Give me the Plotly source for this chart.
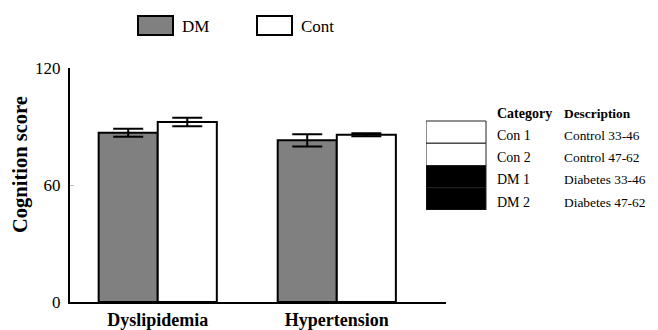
import plotly.graph_objects as go

# ---- data ----
categories = ["Dyslipidemia", "Hypertension"]
series_names = ["DM", "Cont"]
dm_values = [86.8, 82.9]
dm_errors = [2.1, 3.1]
cont_values = [92.3, 85.8]
cont_errors = [2.2, 0.8]
series_colors = ["#808080", "#ffffff"]

table_categories = ["Con 1", "Con 2", "DM 1", "DM 2"]
table_descriptions = ["Control 33-46", "Control 47-62", "Diabetes 33-46", "Diabetes 47-62"]
table_swatches = ["#ffffff", "#ffffff", "#000000", "#000000"]
table_headers = ["Category", "Description"]
y_ticks = [0, 60, 120]

# ---- layout helpers (page has an 8px body margin) ----
OFF = 8
W, H = 658 - OFF, 330 - OFF
FONT = "Liberation Serif"

def px(x):
    return (x - OFF) / W

def py(y):
    return 1 - (y - OFF) / H

rows = list(range(len(table_categories)))
TEXT_SHIFT = 0.15  # visual baseline nudge in row units
SWATCH_W = 60      # px, table units = px
CAT_X = 69
DESC_X = 136
CAT_FONT = dict(family=FONT, size=14, color="black")
DESC_FONT = dict(family=FONT, size=13.4, color="black")

fig = go.Figure()
for name, vals, errs, col in zip(series_names, [dm_values, cont_values],
                                 [dm_errors, cont_errors], series_colors):
    fig.add_trace(go.Bar(
        x=categories, y=vals, name=name,
        marker=dict(color=col, line=dict(color="black", width=2)),
        error_y=dict(type="data", array=errs, color="black", thickness=2, width=15),
        showlegend=False, xaxis="x", yaxis="y",
    ))

# ---- key table on secondary axes ----
fig.add_trace(go.Bar(
    y=rows, x=[SWATCH_W] * len(rows), orientation="h", width=1,
    marker=dict(color=table_swatches, line=dict(color="#222222", width=1)),
    xaxis="x2", yaxis="y2", showlegend=False, hoverinfo="skip",
))
for r, cat, desc in zip(rows, table_categories, table_descriptions):
    for xx, txt, fnt in ((CAT_X, cat, CAT_FONT), (DESC_X, desc, DESC_FONT)):
        fig.add_annotation(xref="x2", yref="y2", x=xx, y=r + TEXT_SHIFT, text=txt,
                           showarrow=False, xanchor="left", yanchor="middle",
                           font=fnt)
for xx, h, fnt in zip((CAT_X, DESC_X), table_headers, (CAT_FONT, DESC_FONT)):
    fig.add_annotation(xref="x2", yref="y2", x=xx, y=-1 + TEXT_SHIFT, text="<b>" + h + "</b>",
                       showarrow=False, xanchor="left", yanchor="middle", font=fnt)

# ---- legend drawn as boxes + labels ----
legend_x = [138, 257]
for lx, name, col in zip(legend_x, series_names, series_colors):
    fig.add_shape(type="rect", xref="paper", yref="paper",
                  x0=px(lx), x1=px(lx + 35), y0=py(35), y1=py(16),
                  fillcolor=col, line=dict(color="black", width=2))
    fig.add_annotation(xref="paper", yref="paper", x=px(lx + 42), y=py(26),
                       text=name, showarrow=False, xanchor="left", yanchor="middle",
                       font=dict(family=FONT, size=17, color="black"))

fig.add_annotation(xref="paper", yref="paper", x=px(20), y=py(165),
                   text="<b>Cognition score</b>", textangle=-90, showarrow=False,
                   xanchor="center", yanchor="middle",
                   font=dict(family=FONT, size=20.5, color="black"))

fig.update_layout(
    width=W, height=H,
    margin=dict(l=0, r=0, t=0, b=0, autoexpand=False),
    paper_bgcolor="white", plot_bgcolor="white",
    barmode="group", bargap=0.34, bargroupgap=0,
    font=dict(family=FONT, color="black"),
    xaxis=dict(
        domain=[px(70), px(446)],
        range=[-0.49, 1.61],
        automargin=False,
        showline=True, linecolor="black", linewidth=2,
        ticks="", showgrid=False, zeroline=False,
        tickfont=dict(family=FONT, size=18, color="black"),
        tickvals=categories,
        ticktext=["<b>" + c + "</b>" for c in categories],
        ticklabelstandoff=0,
    ),
    yaxis=dict(
        domain=[py(302), py(68)],
        range=[0, 120],
        automargin=False,
        tickvals=y_ticks,
        showline=True, linecolor="black", linewidth=2,
        ticks="inside", ticklen=4, tickcolor="#bbbbbb",
        showgrid=False, zeroline=False,
        tickfont=dict(family=FONT, size=17, color="black"),
        ticklabelstandoff=4,
    ),
    xaxis2=dict(
        domain=[px(426), 1.0], range=[0, 658 - 426], anchor="y2",
        visible=False, fixedrange=True,
    ),
    yaxis2=dict(
        domain=[py(210), py(98.75)], range=[3.5, -1.5], anchor="x2",
        visible=False, fixedrange=True,
    ),
)

fig.write_html("out.html")
